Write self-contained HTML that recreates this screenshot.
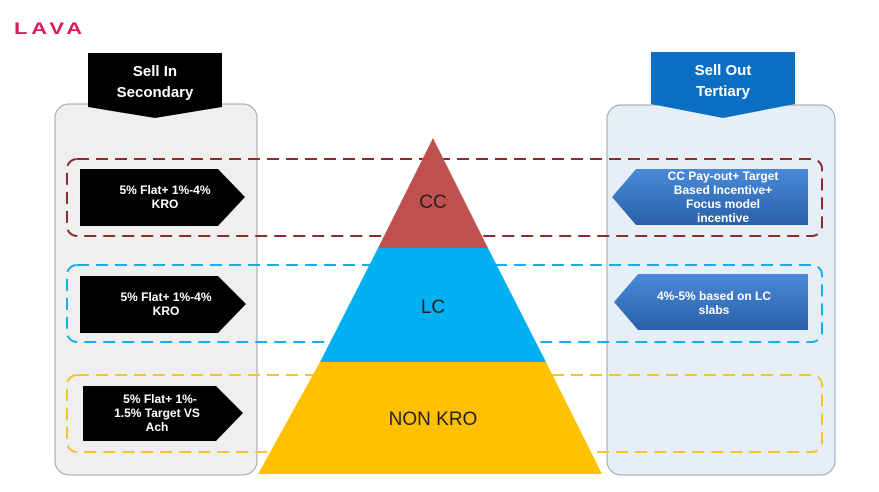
<!DOCTYPE html>
<html><head><style>body{margin:0;background:#fff}svg{display:block}</style></head><body>
<svg width="879" height="492" viewBox="0 0 879 492" xmlns="http://www.w3.org/2000/svg" font-family="Liberation Sans, sans-serif">
<defs><linearGradient id="bg" x1="0" y1="0" x2="0" y2="1"><stop offset="0" stop-color="#4a8ad8"/><stop offset="1" stop-color="#2a60a8"/></linearGradient></defs>
<text x="14" y="34" font-size="17" font-weight="900" fill="#d81b5a" letter-spacing="3" textLength="72" lengthAdjust="spacingAndGlyphs">LAVA</text>
<rect x="55" y="104" width="202" height="371" rx="14" fill="#efefef" stroke="#a0a0a0"/>
<rect x="607" y="105" width="228" height="370" rx="14" fill="#e6eef7" stroke="#a0a0a0"/>
<polygon points="88,53 222,53 222,107 155,118 88,107" fill="#000"/>
<text x="155" y="76" font-size="15" font-weight="bold" fill="#fff" text-anchor="middle">Sell In</text>
<text x="155" y="97" font-size="15" font-weight="bold" fill="#fff" text-anchor="middle">Secondary</text>
<polygon points="651,52 795,52 795,104 723,118 651,104" fill="#0a6fc2"/>
<text x="723" y="75" font-size="15" font-weight="bold" fill="#fff" text-anchor="middle">Sell Out</text>
<text x="723" y="96" font-size="15" font-weight="bold" fill="#fff" text-anchor="middle">Tertiary</text>
<g fill="none" stroke-width="2" stroke-dasharray="12,7">
<rect x="67" y="159" width="755" height="77" rx="10" stroke="#8b2c2c"/>
<rect x="67" y="265" width="755" height="77" rx="10" stroke="#1aaee6"/>
<rect x="67" y="375" width="755" height="77" rx="10" stroke="#f3c430"/>
</g>
<polygon points="433,138 488,248 378,248" fill="#c0504d"/>
<polygon points="378,248 488,248 546,362 320,362" fill="#00b0f0"/>
<polygon points="320,362 546,362 602,474 258,474" fill="#ffc000"/>
<text x="433" y="208" font-size="19" fill="#222" text-anchor="middle">CC</text>
<text x="433" y="313" font-size="19" fill="#222" text-anchor="middle">LC</text>
<text x="433" y="425" font-size="19" fill="#222" text-anchor="middle">NON KRO</text>
<g fill="#000">
<polygon points="80,169 218,169 245,197 218,226 80,226"/>
<polygon points="80,276 218,276 246,304 218,333 80,333"/>
<polygon points="83,386 216,386 243,413 216,441 83,441"/>
</g>
<g fill="#fff" font-size="12" font-weight="bold" text-anchor="middle">
<text x="165" y="194">5% Flat+ 1%-4%</text><text x="165" y="208">KRO</text>
<text x="166" y="301">5% Flat+ 1%-4%</text><text x="166" y="315">KRO</text>
<text x="160" y="403">5% Flat+ 1%-</text><text x="157" y="417">1.5% Target VS</text><text x="157" y="431">Ach</text>
</g>
<polygon points="612,197 636,169 808,169 808,225 636,225" fill="url(#bg)"/>
<polygon points="614,302 638,274 808,274 808,330 638,330" fill="url(#bg)"/>
<g fill="#fff" font-size="12" font-weight="bold" text-anchor="middle">
<text x="723" y="180">CC Pay-out+ Target</text><text x="723" y="194">Based Incentive+</text><text x="723" y="208">Focus model</text><text x="723" y="222">incentive</text>
<text x="714" y="300">4%-5% based on LC</text><text x="714" y="314">slabs</text>
</g>
</svg>
</body></html>
